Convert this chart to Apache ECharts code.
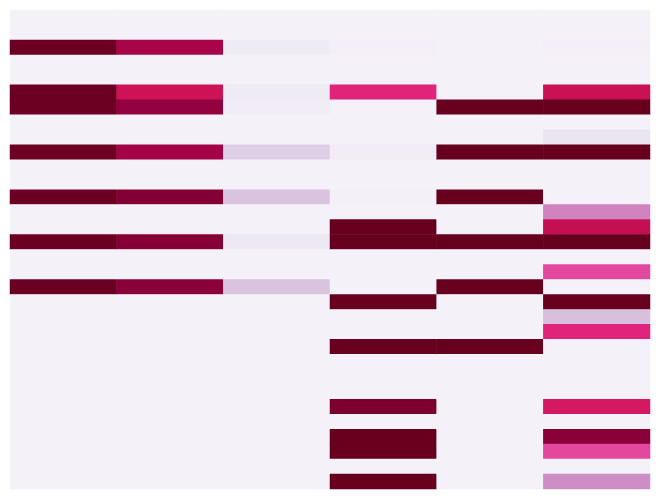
<!DOCTYPE html>
<html>
<head>
<meta charset="utf-8">
<script src="https://cdn.jsdelivr.net/npm/echarts@6/dist/echarts.min.js"></script>
<style>html,body{margin:0;padding:0;background:#fff;}#main{width:660px;height:499px;}</style>
</head>
<body>
<div id="main"></div>
<script>
const columns = ['C1','C2','C3','C4','C5','C6'];
const rows = Array.from({length: 32}, (_, i) => 'R' + (i + 1));
const col1 = [0,0,0.99,0,0,0.99,0.99,0,0,0.99,0,0,0.99,0,0,0.99,0,0,0.99,0,0,0,0,0,0,0,0,0,0,0,0,0];
const col2 = [0,0,0.84,0,0,0.75,0.89,0,0,0.85,0,0,0.93,0,0,0.92,0,0,0.91,0,0,0,0,0,0,0,0,0,0,0,0,0];
const col3 = [0,0,0.05,0,0,0.05,0.04,0,0,0.18,0,0,0.22,0,0,0.07,0,0,0.22,0,0,0,0,0,0,0,0,0,0,0,0,0];
const col4 = [0,0,0.02,0,0,0.66,0,0,0,0.04,0,0,0.01,0,1,1,0,0,0,1,0,0,1,0,0,0,0.95,0,1,1,0,1];
const col5 = [0,0,0,0,0,0,1,0,0,1,0,0,1,0,0,1,0,0,1,0,0,0,1,0,0,0,0,0,0,0,0,0];
const col6 = [0,0,0.02,0,0,0.76,1,0,0.1,1,0,0,0,0.42,0.77,1,0,0.56,0,1,0.23,0.66,0,0,0,0,0.72,0,0.91,0.56,0,0.39];
const allCols = [col1, col2, col3, col4, col5, col6];

const data = [];
allCols.forEach((c, x) => c.forEach((v, y) => data.push([x, y, v])));

const chart = echarts.init(document.getElementById('main'));
chart.setOption({
  animation: false,
  backgroundColor: '#ffffff',
  grid: {left: 10, right: 10, top: 10, bottom: 10},
  xAxis: {type: 'category', data: columns, show: false},
  yAxis: {type: 'category', data: rows, inverse: true, show: false},
  visualMap: {
    show: false, min: 0, max: 1, calculable: false,
    inRange: {color: ['#f5f1f8','#e7e1ef','#d4b9da','#c994c7','#df65b0','#e7298a','#ce1256','#980043','#67001f']}
  },
  series: [{
    type: 'heatmap',
    data: data,
    itemStyle: {borderWidth: 0},
    emphasis: {disabled: true}
  }]
});
</script>
</body>
</html>
